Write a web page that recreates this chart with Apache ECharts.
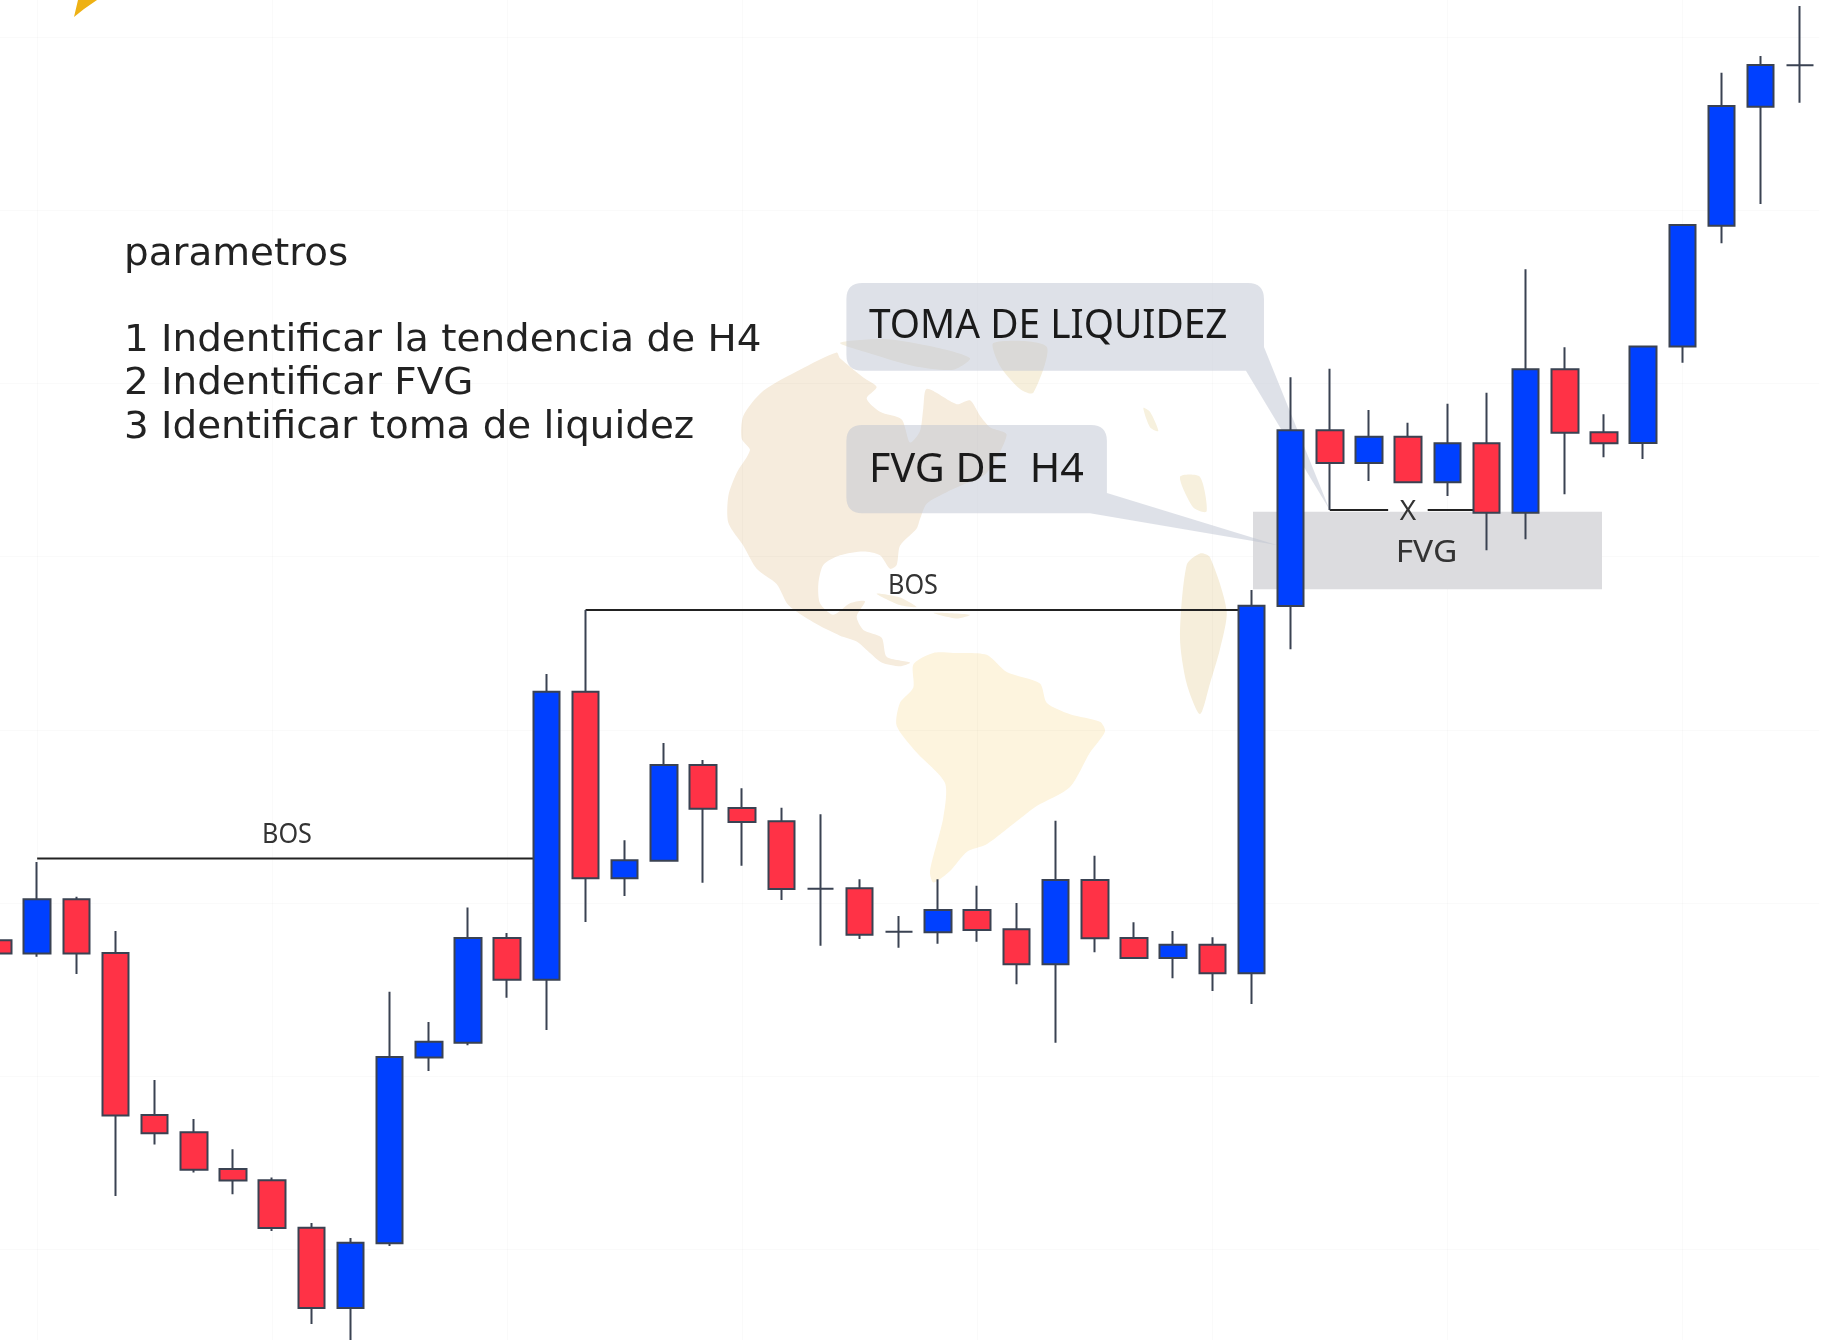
<!DOCTYPE html>
<html>
<head>
<meta charset="utf-8">
<style>html,body{margin:0;padding:0;background:#fff;overflow:hidden}#c{position:absolute;left:-50px;top:0;width:1873px;height:1340px}</style>
<script src="https://cdn.jsdelivr.net/npm/echarts@6/dist/echarts.min.js"></script>
</head>
<body>
<div id="c"></div>
<script>
const opens  = [459.8,446.4,500.8,447.1,285,267.7,230.9,219.8,172.3,92.1,156.8,342.4,357.2,461.9,420.3,708.3,521.7,539.3,635,592,578.7,511.3,511.7,468.3,467.7,490,470.7,435.7,520,462,442,455.3,426.7,794,969.7,937,963.3,917.7,956.7,887.3,1030.7,967.7,957,1053.5,1174.3,1293.3,1334.7];
const closes = [446.4,500.8,446.4,284.6,266.7,230.2,219.5,172,92.1,157.2,343.1,358.3,461.9,420.2,708.3,521.7,539.7,635,591.3,578,511,511.3,465.3,468.3,490,470,435.7,520,461.7,442,455.3,426.7,794.3,969.7,937,963.3,917.7,956.7,887.3,1030.7,967.3,956.7,1053.5,1175,1294,1335,1334.7];
const lows   = [446.4,443.3,426.1,204,255.6,227.4,205.7,168.9,75.9,55,154.1,329,354.8,402.3,370,478,504,539,517.3,534.3,500,454.3,461,452.3,456.3,458.3,415.7,357.3,447.7,442,421.7,409,396,750.7,890,919,917.7,904,849.7,860.7,905.7,942.7,941,1037.3,1156.7,1196,1297.3];
const highs  = [459.8,538,503.2,469.1,320,281.1,250.8,222.6,177.1,162,408.2,377.9,492.6,467.1,726,790,559.7,657,640,611.7,592.3,585.7,520.7,484,520.7,514.3,497,579.3,544.3,477.7,469,462.7,810,1022.7,1031.3,990,977.3,996.3,1007.3,1130.7,1052.7,985.7,1053.5,1175,1327.3,1344,1394];
const categories = opens.map((_, i) => String(i));

const bos1 = [[1, 541.5], [14, 541.5]];
const bos2 = [[15, 790], [32, 790]];
const takeLeft  = [[34, 890], [35.49, 890]];
const takeRight = [[36.5, 890], [38, 890]];
const fvgZone = [[32.04, 888.3, 40.95, 810.7]];
// x0, x1, top, bottom, tail base x, tail base price, tip x, tip price
const callouts = [
  [21.66, 32.32, 1117, 1029.3, 31.86, 1053, 34.0, 890],
  [21.66, 28.31, 975, 886.7, 27.88, 907, 32.64, 855]
];
const gridXs = [1, 7, 13, 19, 25, 31, 37, 43];
const gridYs = [1363, 1190, 1017, 844, 670, 497, 324, 151];

const paragraph = ['parametros', '1 Indentificar la tendencia de H4', '2 Indentificar FVG', '3 Identificar toma de liquidez'];

const DJ = '"DejaVu Sans", sans-serif';
const txt = (x, y, text, size, sx, color, align, family) => ({
  type: 'text', x, y, scaleX: sx, silent: true, z: 6,
  style: { text, x: 0, y: 0, font: size + 'px ' + (family || '"Noto Sans", sans-serif'), fill: color || '#222', textAlign: align || 'left', textVerticalAlign: 'middle' }
});
const land = (points, fill) => ({
  type: 'polygon', silent: true, z: 0,
  shape: { points, smooth: 0.25 }, style: { fill }
});

const northAmerica = [[410,85],[300,130],[190,185],[130,250],[125,310],[150,340],[110,400],[85,460],[85,530],[130,590],[170,650],[230,690],[265,745],[340,790],[420,825],[470,840],[510,870],[545,895],[600,905],[630,895],[560,880],[545,830],[490,810],[470,775],[495,735],[450,740],[400,770],[360,740],[355,690],[370,640],[420,615],[490,605],[540,615],[570,650],[590,640],[600,590],[650,545],[660,520],[680,480],[740,450],[790,430],[860,400],[920,300],[870,280],[840,250],[810,210],[770,220],[680,180],[670,230],[660,290],[630,320],[605,260],[540,240],[500,205],[530,175],[490,150],[420,100]];
const southAmerica = [[640,900],[700,870],[760,870],[860,875],[920,920],[1020,950],[1040,1000],[1110,1030],[1200,1050],[1215,1075],[1170,1130],[1110,1220],[1010,1270],[950,1310],[860,1370],[800,1390],[750,1440],[700,1470],[690,1440],[730,1300],[735,1210],[650,1130],[590,1060],[600,1000],[640,960]];
const greenland = [[880,60],[1040,70],[1000,190],[960,180],[900,120]];
const arctic = [[420,60],[560,50],[700,70],[810,100],[760,130],[640,120],[520,90]];
const cuba = [[530,715],[600,725],[650,750],[600,745]];
const hispaniola = [[700,765],[810,770],[770,780]];
const africa = [[1460,640],[1500,610],[1530,620],[1580,760],[1560,860],[1530,950],[1500,1030],[1460,950],[1440,830]];
const europe = [[1440,410],[1500,410],[1520,500],[1480,490]];
const isles = [[1330,230],[1350,240],[1375,290],[1350,280]];

const chart = echarts.init(document.getElementById('c'));
chart.setOption({
  animation: false,
  backgroundColor: '#ffffff',
  grid: { left: 28.4, top: 0, width: 1841, height: 1340 },
  xAxis: [
    { type: 'category', data: categories, show: false, boundaryGap: true },
    { type: 'value', min: -0.5, max: 46.5, show: false, splitLine: { show: false } }
  ],
  yAxis: { type: 'value', min: 60, max: 1400, show: false, splitLine: { show: false } },
  series: [
    {
      type: 'line', xAxisIndex: 1, data: bos1, z: 1, showSymbol: false, silent: true,
      lineStyle: { color: '#222', width: 2 },
      markLine: {
        silent: true, symbol: 'none', label: { show: false }, z: 0, animation: false,
        lineStyle: { color: 'rgba(0,0,0,0.018)', width: 1, type: 'solid' },
        data: gridXs.map(v => ({ xAxis: v })).concat(gridYs.map(v => ({ yAxis: v })))
      }
    },
    { type: 'line', xAxisIndex: 1, data: bos2, z: 1, showSymbol: false, silent: true, lineStyle: { color: '#222', width: 2 } },
    { type: 'line', xAxisIndex: 1, data: takeLeft, z: 1, showSymbol: false, silent: true, lineStyle: { color: '#222', width: 2 } },
    { type: 'line', xAxisIndex: 1, data: takeRight, z: 1, showSymbol: false, silent: true, lineStyle: { color: '#222', width: 2 } },
    {
      type: 'custom', xAxisIndex: 1, z: 0, silent: true, data: fvgZone,
      renderItem: (p, api) => {
        const a = api.coord([api.value(0), api.value(1)]), b = api.coord([api.value(2), api.value(3)]);
        return { type: 'rect', shape: { x: a[0], y: a[1], width: b[0] - a[0], height: b[1] - a[1] }, style: { fill: '#dcdcdf' } };
      }
    },
    {
      type: 'custom', xAxisIndex: 1, z: 1, silent: true, data: callouts,
      renderItem: (p, api) => {
        const tl = api.coord([api.value(0), api.value(2)]), br = api.coord([api.value(1), api.value(3)]);
        const bx = api.coord([api.value(4), api.value(3)])[0], by = api.coord([api.value(1), api.value(5)])[1];
        const tip = api.coord([api.value(6), api.value(7)]);
        const r = 16, x0 = tl[0], y0 = tl[1], x1 = br[0], y1 = br[1];
        const d = `M${x0+r} ${y0}L${x1-r} ${y0}Q${x1} ${y0} ${x1} ${y0+r}L${x1} ${by}L${tip[0]} ${tip[1]}L${bx} ${y1}L${x0+r} ${y1}Q${x0} ${y1} ${x0} ${y1-r}L${x0} ${y0+r}Q${x0} ${y0} ${x0+r} ${y0}Z`;
        return { type: 'path', shape: { pathData: d }, style: { fill: 'rgba(190,195,210,0.5)' } };
      }
    },
    {
      type: 'candlestick', xAxisIndex: 0, z: 3, barWidth: 27, silent: true, clip: true,
      data: opens.map((o, i) => [o, closes[i], lows[i], highs[i]]),
      itemStyle: {
        color: '#0040ff', color0: '#ff3246',
        borderColor: '#3a4252', borderColor0: '#3a4252', borderColorDoji: '#3a4252', borderWidth: 2
      }
    }
  ],
  graphic: [
    {
      type: 'group', x: 750, y: 320, scaleX: 1 / 3, scaleY: 1 / 2.613, silent: true,
      children: [
        land(northAmerica, '#f6ecdd'), land(southAmerica, '#fdf4de'), land(greenland, '#f6efdc'),
        land(arctic, '#f5efe0'), land(cuba, '#f6eedd'), land(hispaniola, '#f6eedd'),
        land(africa, '#f6eedb'), land(europe, '#f7f0dd'), land(isles, '#f7f1de')
      ]
    },
    { type: 'polygon', silent: true, z: 0, shape: { points: [[124, 17], [128, 0], [147, 0], [134, 9]] }, style: { fill: '#eeb114' } },
    {
      type: 'group', x: 50, y: 0, silent: true,
      children: [
        txt(124, 255, paragraph[0], 37, 1.05, '#222', 'left', DJ),
        txt(124, 341, paragraph[1], 37, 1.05, '#222', 'left', DJ),
        txt(124, 384, paragraph[2], 37, 1.05, '#222', 'left', DJ),
        txt(124, 428, paragraph[3], 37, 1.05, '#222', 'left', DJ),
        txt(869, 327, 'TOMA DE LIQUIDEZ', 40, 0.97, '#1a1a1a'),
        txt(869, 471, 'FVG DE  H4', 40, 1.03, '#1a1a1a'),
        txt(287, 835, 'BOS', 28, 0.9, '#333', 'center'),
        txt(913, 586, 'BOS', 28, 0.9, '#333', 'center'),
        txt(1426.5, 553, 'FVG', 31, 1.08, '#333', 'center'),
        txt(1408, 512, 'X', 28, 1, '#333', 'center')
      ]
    }
  ]
});
</script>
</body>
</html>
